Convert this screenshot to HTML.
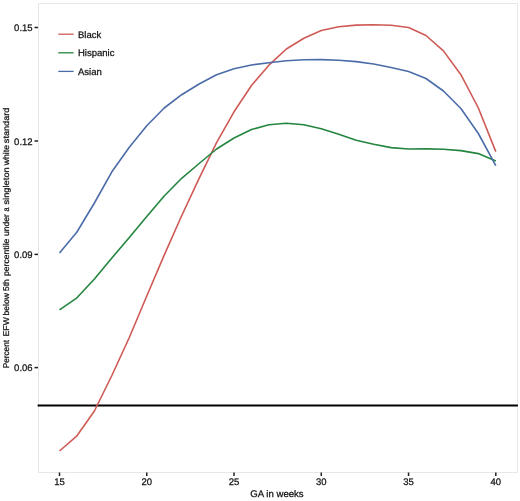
<!DOCTYPE html>
<html><head><meta charset="utf-8"><style>
html,body{margin:0;padding:0;background:#fff;width:520px;height:501px;overflow:hidden}
svg{display:block;will-change:transform}
text{font-family:"Liberation Sans", sans-serif;fill:#111;stroke:#111;stroke-width:0.25px;text-rendering:geometricPrecision}
</style></head><body>
<svg width="520" height="501" viewBox="0 0 520 501">
<rect width="520" height="501" fill="#fff"/>
<g>
<rect x="38.5" y="3.5" width="479.0" height="469.0" fill="#fff" stroke="#e7e7e7" stroke-width="1"/>
<line x1="37.6" y1="405.5" x2="517.9" y2="405.5" stroke="#000" stroke-width="2"/>
<path d="M59.50,451.00 L76.95,435.80 L94.40,411.00 L111.86,375.50 L129.31,337.50 L146.76,296.00 L164.21,255.10 L181.66,215.70 L199.12,178.30 L216.57,142.70 L234.02,111.80 L251.47,85.50 L268.92,65.20 L286.38,49.00 L303.83,38.20 L321.28,30.50 L338.73,26.80 L356.18,25.10 L373.64,24.80 L391.09,25.30 L408.54,27.50 L425.99,35.50 L443.44,50.90 L460.90,74.70 L478.35,108.00 L495.80,151.60" fill="none" stroke="#cf5a55" stroke-width="1.6" stroke-linejoin="round"/>
<path d="M59.50,309.80 L76.95,297.80 L94.40,279.00 L111.86,258.00 L129.31,237.50 L146.76,216.60 L164.21,196.00 L181.66,178.30 L199.12,163.50 L216.57,149.00 L234.02,138.00 L251.47,129.50 L268.92,124.70 L286.38,123.20 L303.83,124.80 L321.28,128.80 L338.73,134.20 L356.18,140.30 L373.64,144.30 L391.09,147.60 L408.54,149.00 L425.99,148.90 L443.44,149.20 L460.90,150.60 L478.35,153.60 L495.80,161.00" fill="none" stroke="#24853f" stroke-width="1.6" stroke-linejoin="round"/>
<path d="M59.50,253.00 L76.95,232.00 L94.40,203.00 L111.86,171.80 L129.31,147.20 L146.76,125.70 L164.21,108.00 L181.66,94.70 L199.12,84.00 L216.57,74.80 L234.02,68.80 L251.47,65.00 L268.92,62.80 L286.38,60.80 L303.83,59.80 L321.28,59.60 L338.73,60.20 L356.18,61.60 L373.64,64.00 L391.09,67.50 L408.54,71.50 L425.99,78.50 L443.44,91.00 L460.90,108.50 L478.35,133.50 L495.80,165.60" fill="none" stroke="#4b6ca8" stroke-width="1.6" stroke-linejoin="round"/>
<line x1="34.5" y1="27.5" x2="38" y2="27.5" stroke="#222" stroke-width="1.5"/>
<text transform="translate(32.6,31.00)" text-anchor="end" font-size="9.5">0.15</text>
<line x1="34.5" y1="141.0" x2="38" y2="141.0" stroke="#222" stroke-width="1.5"/>
<text transform="translate(32.6,144.50)" text-anchor="end" font-size="9.5">0.12</text>
<line x1="34.5" y1="254.4" x2="38" y2="254.4" stroke="#222" stroke-width="1.5"/>
<text transform="translate(32.6,257.90)" text-anchor="end" font-size="9.5">0.09</text>
<line x1="34.5" y1="367.6" x2="38" y2="367.6" stroke="#222" stroke-width="1.5"/>
<text transform="translate(32.6,371.10)" text-anchor="end" font-size="9.5">0.06</text>
<line x1="59.50" y1="472.5" x2="59.50" y2="476" stroke="#222" stroke-width="1.5"/>
<text transform="translate(59.50,484.9)" text-anchor="middle" font-size="9.5">15</text>
<line x1="146.76" y1="472.5" x2="146.76" y2="476" stroke="#222" stroke-width="1.5"/>
<text transform="translate(146.76,484.9)" text-anchor="middle" font-size="9.5">20</text>
<line x1="234.02" y1="472.5" x2="234.02" y2="476" stroke="#222" stroke-width="1.5"/>
<text transform="translate(234.02,484.9)" text-anchor="middle" font-size="9.5">25</text>
<line x1="321.28" y1="472.5" x2="321.28" y2="476" stroke="#222" stroke-width="1.5"/>
<text transform="translate(321.28,484.9)" text-anchor="middle" font-size="9.5">30</text>
<line x1="408.54" y1="472.5" x2="408.54" y2="476" stroke="#222" stroke-width="1.5"/>
<text transform="translate(408.54,484.9)" text-anchor="middle" font-size="9.5">35</text>
<line x1="495.80" y1="472.5" x2="495.80" y2="476" stroke="#222" stroke-width="1.5"/>
<text transform="translate(495.80,484.9)" text-anchor="middle" font-size="9.5">40</text>
<text transform="translate(277,496.6)" text-anchor="middle" font-size="9.6">GA in weeks</text>
<text transform="rotate(-90)" font-size="8.4"><tspan x="-368.30" y="8.8" textLength="28.30" lengthAdjust="spacingAndGlyphs">Percent</tspan><tspan x="-336.40" y="8.8" textLength="19.20" lengthAdjust="spacingAndGlyphs">EFW</tspan><tspan x="-315.50" y="8.8" textLength="22.30" lengthAdjust="spacingAndGlyphs">below</tspan><tspan x="-290.90" y="8.8" textLength="11.70" lengthAdjust="spacingAndGlyphs">5th</tspan><tspan x="-276.10" y="8.8" textLength="37.50" lengthAdjust="spacingAndGlyphs">percentile</tspan><tspan x="-236.00" y="8.8" textLength="21.90" lengthAdjust="spacingAndGlyphs">under</tspan><tspan x="-211.50" y="8.8" textLength="4.10" lengthAdjust="spacingAndGlyphs">a</tspan><tspan x="-204.60" y="8.8" textLength="37.40" lengthAdjust="spacingAndGlyphs">singleton</tspan><tspan x="-165.20" y="8.8" textLength="20.20" lengthAdjust="spacingAndGlyphs">white</tspan><tspan x="-143.20" y="8.8" textLength="35.60" lengthAdjust="spacingAndGlyphs">standard</tspan></text>
<line x1="58.3" y1="34.2" x2="73.6" y2="34.2" stroke="#cf5a55" stroke-width="1.3"/>
<text transform="translate(78,37.80)" font-size="9.5">Black</text>
<line x1="58.3" y1="52.8" x2="73.6" y2="52.8" stroke="#24853f" stroke-width="1.3"/>
<text transform="translate(78,56.40)" font-size="9.5">Hispanic</text>
<line x1="58.3" y1="71.4" x2="73.6" y2="71.4" stroke="#4b6ca8" stroke-width="1.3"/>
<text transform="translate(78,75.00)" font-size="9.5">Asian</text>
</g>
</svg>
</body></html>
